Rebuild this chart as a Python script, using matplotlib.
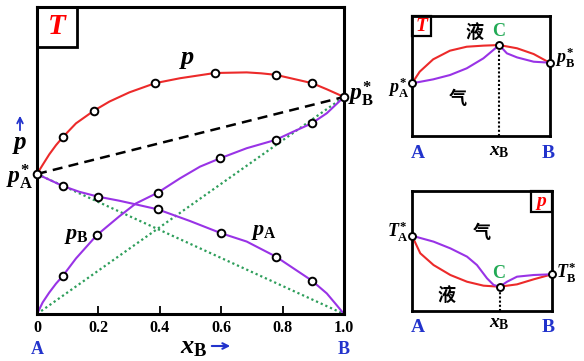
import matplotlib.pyplot as plt
from matplotlib.patches import Rectangle

plt.rcParams['font.family'] = ['Liberation Serif', 'Noto Sans CJK SC', 'DejaVu Sans']
plt.rcParams['mathtext.fontset'] = 'custom'
plt.rcParams['mathtext.it'] = 'Liberation Serif:italic:bold'
plt.rcParams['mathtext.rm'] = 'Liberation Serif:bold'
plt.rcParams['mathtext.bf'] = 'Liberation Serif:bold'

RED = '#ec2a2a'
PURPLE = '#9933e6'
GREEN = '#2e9e5b'
BLUE = '#2233cc'
CGREEN = '#22aa55'

# main chart: total pressure p, partial pressures pA, pB vs xB
pA_star = 45.6
pB_star = 70.7
p_x = [0, 0.0186, 0.040, 0.062, 0.084, 0.127, 0.185, 0.236, 0.301, 0.385, 0.466, 0.579,
       0.683, 0.73, 0.778, 0.896, 0.944, 1.0]
p_y = [45.6, 48.6, 52.0, 55.0, 57.6, 62.1, 66.2, 69.2, 72.2, 75.2, 76.8, 78.5,
       78.7, 78.4, 77.9, 75.2, 73.2, 70.7]
p_mx = [0.084, 0.185, 0.385, 0.579, 0.778, 0.896]
p_my = [57.6, 66.2, 75.2, 78.5, 77.9, 75.2]

pB_x = [0, 0.0186, 0.040, 0.062, 0.084, 0.127, 0.195, 0.268, 0.322, 0.393, 0.466, 0.531,
        0.596, 0.683, 0.777, 0.835, 0.895, 0.944, 1.0]
pB_y = [0, 3.8, 7.0, 9.9, 12.4, 18.1, 25.7, 31.8, 36.0, 39.5, 44.2, 48.0,
        50.7, 54.0, 56.7, 59.4, 62.1, 65.4, 70.7]
pB_mx = [0.084, 0.195, 0.393, 0.596, 0.777, 0.895]
pB_my = [12.4, 25.7, 39.5, 50.7, 56.7, 62.1]

pA_x = [0, 0.084, 0.138, 0.2, 0.268, 0.322, 0.393, 0.498, 0.6, 0.683, 0.778, 0.835,
        0.895, 0.944, 0.976, 1.0]
pA_y = [45.6, 41.7, 39.8, 38.2, 36.9, 35.7, 34.1, 30.3, 26.3, 23.6, 18.7, 14.9,
        10.9, 6.7, 2.9, 0]
pA_mx = [0.084, 0.2, 0.393, 0.6, 0.778, 0.895]
pA_my = [41.7, 38.2, 34.1, 26.3, 18.7, 10.9]

ticks = [0, 0.2, 0.4, 0.6, 0.8, 1.0]
tick_labels = ['0', '0.2', '0.4', '0.6', '0.8', '1.0']

# small T-x diagram (top right)
t_liq_x = [0, 0.056, 0.154, 0.276, 0.398, 0.519, 0.634, 0.764, 0.885, 1.0]
t_liq_y = [43.9, 53.6, 63.9, 71.1, 74.4, 75.3, 75.8, 73.1, 68.3, 61.1]
t_gas_x = [0, 0.154, 0.276, 0.398, 0.519, 0.592, 0.634, 0.690, 0.764, 0.885, 1.0]
t_gas_y = [43.9, 47.2, 50.8, 56.4, 64.7, 71.7, 75.8, 68.9, 65.5, 61.9, 61.1]
t_c = (0.634, 75.8)

# small p-x diagram (bottom right)
b_liq_x = [0, 0.059, 0.154, 0.274, 0.393, 0.511, 0.626, 0.75, 0.869, 1.0]
b_liq_y = [62.75, 48.1, 38.3, 30.0, 24.4, 21.1, 20.25, 22.2, 26.4, 30.6]
b_gas_x = [0, 0.154, 0.274, 0.393, 0.464, 0.536, 0.583, 0.626, 0.679, 0.75, 0.869, 1.0]
b_gas_y = [62.75, 57.8, 52.2, 45.3, 38.3, 27.2, 21.7, 20.25, 24.4, 28.6, 30.0, 30.6]
b_c = (0.626, 20.25)

W, H = 584, 361
fig = plt.figure(figsize=(W / 100, H / 100), dpi=100)


def px(x, y):
    return x / W, 1 - y / H


def mk(ax, xs, ys, s=5.5):
    ax.plot(xs, ys, 'o', ms=s, mfc='white', mec='black', mew=1.4, clip_on=False, zorder=6)


def frame(ax, lw):
    ax.set_xlim(0, 1)
    ax.set_ylim(0, 100)
    for sp in ax.spines.values():
        sp.set_linewidth(lw)
    ax.set_xticks([])
    ax.set_yticks([])


# ---- main chart
ax = fig.add_axes([37 / W, 1 - 314 / H, 307 / W, 307 / H])
frame(ax, 2.2)
ax.plot([0, 1], [pA_star, 0], color=GREEN, lw=1.6, ls=(0, (1, 1.3)))
ax.plot([0, 1], [0, pB_star], color=GREEN, lw=1.6, ls=(0, (1, 1.3)))
ax.plot([0, 1], [pA_star, pB_star], color='black', lw=1.8, ls=(0, (4, 2.5)))
ax.plot(p_x, p_y, color=RED, lw=1.5)
ax.plot(pB_x, pB_y, color=PURPLE, lw=1.5)
ax.plot(pA_x, pA_y, color=PURPLE, lw=1.5)
mk(ax, p_mx, p_my)
mk(ax, pB_mx, pB_my)
mk(ax, pA_mx, pA_my)
mk(ax, [0, 1], [pA_star, pB_star])
ax.set_xticks(ticks[1:-1])
ax.set_xticklabels([])
ax.tick_params(axis='x', direction='in', length=6, width=1.3)
for t, lab in zip(ticks, tick_labels):
    ax.text(t, -4.6, lab, ha='center', va='center', fontsize=11.5, fontweight='bold')
ax.add_patch(Rectangle((0, 0.87), 0.13, 0.13, transform=ax.transAxes, fill=False,
                       ec='black', lw=2, clip_on=False))
ax.text(0.065, 0.935, 'T', transform=ax.transAxes, ha='center', va='center',
        fontsize=21, color='red', fontweight='bold', fontstyle='italic')
ax.text(0.49, 79, r'$p$', ha='center', va='bottom', fontsize=19)
ax.text(0.74, 26.4, r'$p_{\rm A}$', ha='center', va='center', fontsize=16)
ax.text(0.127, 25.4, r'$p_{\rm B}$', ha='center', va='center', fontsize=16)

fig.text(*px(20, 177), r'$p_{\rm A}^{*}$', ha='center', va='center', fontsize=17)
fig.text(*px(348, 94), r'$p_{\rm B}^{*}$', ha='left', va='center', fontsize=17)
fig.text(*px(20, 145), r'$p$', ha='center', va='center', fontsize=18)
fig.add_artist(plt.Annotation('', xy=px(20, 113), xytext=px(20, 133), xycoords='figure fraction',
                              arrowprops=dict(arrowstyle='->', color=BLUE, lw=1.3)))
fig.text(*px(37, 350), 'A', ha='center', va='center', fontsize=13, fontweight='bold', color=BLUE)
fig.text(*px(344, 350), 'B', ha='center', va='center', fontsize=13, fontweight='bold', color=BLUE)
fig.text(*px(207, 348), r'$x_{\rm B}$', ha='right', va='center', fontsize=19)
fig.add_artist(plt.Annotation('', xy=px(233, 346), xytext=px(209, 346), xycoords='figure fraction',
                              arrowprops=dict(arrowstyle='->', color=BLUE, lw=1.5)))

# ---- top right T diagram
at = fig.add_axes([412 / W, 1 - 136 / H, 137.5 / W, 120 / H])
frame(at, 2.0)
at.plot([t_c[0], t_c[0]], [0, t_c[1]], color='black', lw=1.5, ls=(0, (1, 1)))
at.plot(t_liq_x, t_liq_y, color=RED, lw=1.5)
at.plot(t_gas_x, t_gas_y, color=PURPLE, lw=1.5)
mk(at, [0, t_c[0], 1], [t_liq_y[0], t_c[1], t_liq_y[-1]], s=5)
at.add_patch(Rectangle((0, 0.833), 0.14, 0.167, transform=at.transAxes, fill=False,
                       ec='black', lw=1.6, clip_on=False))
at.text(0.07, 0.915, 'T', transform=at.transAxes, ha='center', va='center',
        fontsize=14, color='red', fontweight='bold', fontstyle='italic')
fig.text(*px(475, 32), '液', ha='center', va='center', fontsize=13,
         family=['Noto Sans CJK SC'], fontweight='bold')
fig.text(*px(499, 31), 'C', ha='center', va='center', fontsize=13, color=CGREEN, fontweight='bold')
fig.text(*px(458, 99), '气', ha='center', va='center', fontsize=13,
         family=['Noto Sans CJK SC'], fontweight='bold')
fig.text(*px(409, 88), r'$p_{\rm A}^{*}$', ha='right', va='center', fontsize=13)
fig.text(*px(555, 58), r'$p_{\rm B}^{*}$', ha='left', va='center', fontsize=13)
fig.text(*px(418, 154), 'A', ha='center', va='center', fontsize=14, fontweight='bold', color=BLUE)
fig.text(*px(548, 154), 'B', ha='center', va='center', fontsize=14, fontweight='bold', color=BLUE)
fig.text(*px(499, 152), r'$x_{\rm B}$', ha='center', va='center', fontsize=14)

# ---- bottom right p diagram
ab = fig.add_axes([412 / W, 1 - 311 / H, 140 / W, 120 / H])
frame(ab, 2.0)
ab.plot([b_c[0], b_c[0]], [0, b_c[1]], color='black', lw=1.5, ls=(0, (1, 1)))
ab.plot(b_liq_x, b_liq_y, color=RED, lw=1.5)
ab.plot(b_gas_x, b_gas_y, color=PURPLE, lw=1.5)
mk(ab, [0, b_c[0], 1], [b_liq_y[0], b_c[1], b_liq_y[-1]], s=5)
ab.add_patch(Rectangle((0.85, 0.825), 0.15, 0.175, transform=ab.transAxes, fill=False,
                       ec='black', lw=1.6, clip_on=False))
ab.text(0.925, 0.912, 'p', transform=ab.transAxes, ha='center', va='center',
        fontsize=14, color='red', fontweight='bold', fontstyle='italic')
fig.text(*px(482, 233), '气', ha='center', va='center', fontsize=13,
         family=['Noto Sans CJK SC'], fontweight='bold')
fig.text(*px(447, 295), '液', ha='center', va='center', fontsize=13,
         family=['Noto Sans CJK SC'], fontweight='bold')
fig.text(*px(499, 273), 'C', ha='center', va='center', fontsize=13, color=CGREEN, fontweight='bold')
fig.text(*px(409, 232), r'$T_{\rm A}^{*}$', ha='right', va='center', fontsize=13)
fig.text(*px(556, 273), r'$T_{\rm B}^{*}$', ha='left', va='center', fontsize=13)
fig.text(*px(418, 327), 'A', ha='center', va='center', fontsize=14, fontweight='bold', color=BLUE)
fig.text(*px(548, 327), 'B', ha='center', va='center', fontsize=14, fontweight='bold', color=BLUE)
fig.text(*px(499, 324), r'$x_{\rm B}$', ha='center', va='center', fontsize=14)

fig.savefig('out.png', dpi=100)
